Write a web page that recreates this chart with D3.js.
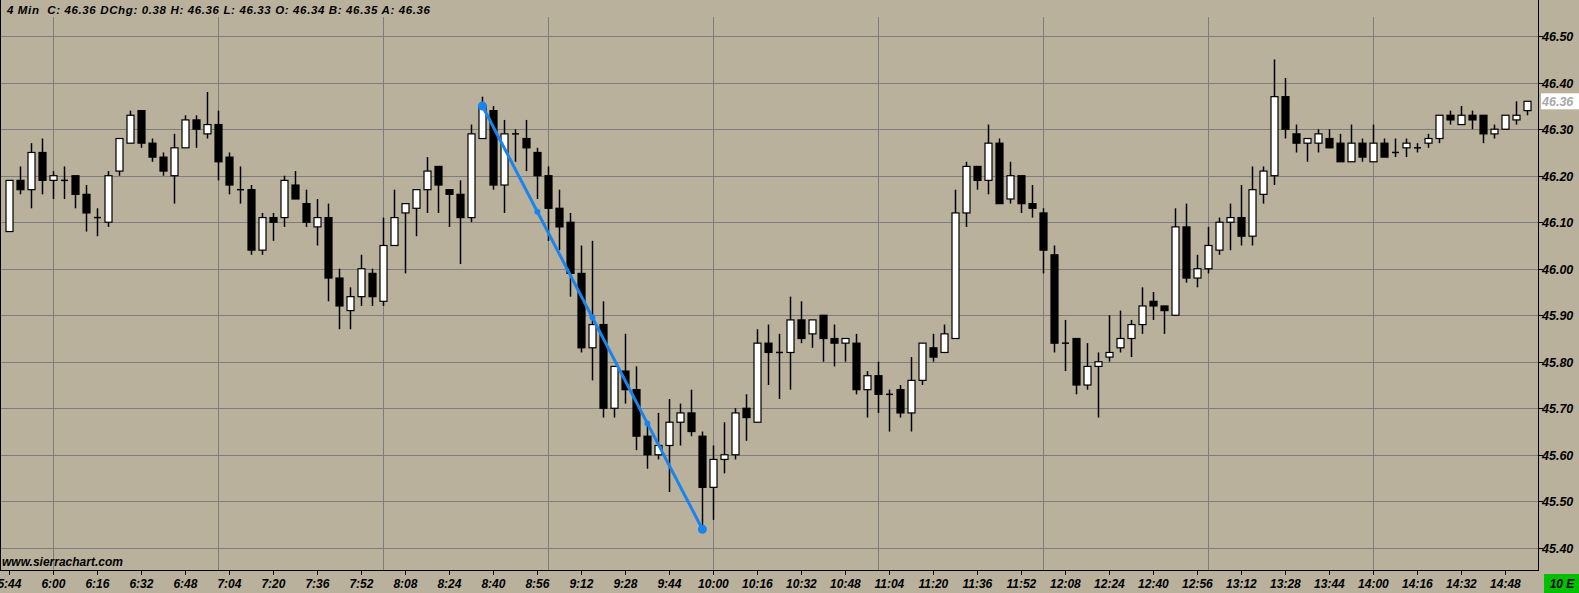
<!DOCTYPE html>
<html>
<head>
<meta charset="utf-8">
<script src="https://cdn.jsdelivr.net/npm/d3@7"></script>
<style>
  body { margin: 0; background: #b9b19c; }
  text { font-family: "Liberation Sans", Arial, sans-serif; font-weight: bold; font-style: italic; }
</style>
</head>
<body>
<svg id="chart" width="1579" height="593"></svg>
<script>
// 4 minute bars, first bar 5:44
var startMinute = 5 * 60 + 44;
var barMinutes = 4;

var openP = [46.08,46.19,46.17,46.25,46.19,46.19,46.20,46.16,46.11,46.10,
  46.21,46.27,46.34,46.27,46.24,46.20,46.26,46.32,46.29,46.31,
  46.24,46.17,46.17,46.04,46.11,46.11,46.18,46.14,46.09,46.11,
  45.98,45.91,45.94,45.99,45.93,46.05,46.12,46.13,46.17,46.22,
  46.17,46.16,46.11,46.28,46.34,46.18,46.29,46.28,46.25,46.20,
  46.13,46.10,45.99,45.83,45.88,45.70,45.78,45.74,45.64,45.60,
  45.62,45.67,45.69,45.64,45.53,45.59,45.60,45.70,45.67,45.84,
  45.82,45.82,45.89,45.86,45.90,45.85,45.84,45.84,45.74,45.77,
  45.73,45.74,45.69,45.76,45.83,45.82,45.85,46.12,46.22,46.19,
  46.27,46.15,46.20,46.14,46.12,46.03,45.84,45.85,45.75,45.79,
  45.81,45.83,45.85,45.88,45.93,45.92,45.90,46.09,45.98,46.00,
  46.04,46.10,46.11,46.07,46.16,46.20,46.37,46.29,46.27,46.27,
  46.28,46.27,46.23,46.27,46.23,46.27,46.25,46.26,46.26,46.27,
  46.28,46.33,46.31,46.33,46.33,46.29,46.30,46.32,46.34];
var highP = [46.19,46.22,46.27,46.28,46.21,46.22,46.20,46.18,46.13,46.21,
  46.28,46.34,46.34,46.28,46.25,46.29,46.33,46.33,46.38,46.34,
  46.25,46.22,46.18,46.12,46.12,46.20,46.21,46.17,46.15,46.14,
  46.00,45.96,46.03,46.00,46.11,46.17,46.14,46.17,46.24,46.22,
  46.17,46.19,46.31,46.37,46.35,46.32,46.30,46.32,46.26,46.22,
  46.17,46.12,46.05,46.06,45.93,45.79,45.86,45.79,45.67,45.69,
  45.72,45.71,45.74,45.65,45.62,45.67,45.70,45.73,45.87,45.88,
  45.86,45.94,45.93,45.89,45.90,45.88,45.85,45.86,45.78,45.80,
  45.74,45.75,45.81,45.84,45.86,45.88,46.17,46.23,46.22,46.31,
  46.28,46.23,46.20,46.18,46.13,46.05,45.89,45.85,45.84,45.82,
  45.90,45.91,45.89,45.96,45.95,45.92,46.13,46.14,46.03,46.09,
  46.11,46.14,46.18,46.22,46.22,46.45,46.41,46.31,46.28,46.30,
  46.30,46.29,46.31,46.28,46.31,46.28,46.28,46.28,46.27,46.29,
  46.33,46.34,46.35,46.34,46.33,46.31,46.33,46.36,46.36];
var lowP = [46.08,46.16,46.13,46.16,46.15,46.15,46.13,46.08,46.07,46.09,
  46.20,46.27,46.26,46.23,46.20,46.14,46.26,46.26,46.28,46.19,
  46.16,46.14,46.03,46.03,46.06,46.09,46.15,46.09,46.05,45.93,
  45.87,45.87,45.92,45.92,45.92,46.05,45.99,46.07,46.12,46.12,
  46.09,46.01,46.10,46.28,46.17,46.12,46.23,46.21,46.15,46.06,
  46.04,45.94,45.82,45.76,45.68,45.68,45.71,45.61,45.57,45.59,
  45.52,45.62,45.64,45.44,45.46,45.56,45.59,45.63,45.67,45.75,
  45.72,45.74,45.84,45.83,45.80,45.79,45.80,45.73,45.68,45.69,
  45.65,45.68,45.65,45.75,45.80,45.82,45.85,46.09,46.17,46.16,
  46.14,46.14,46.12,46.11,45.99,45.82,45.78,45.73,45.74,45.68,
  45.80,45.82,45.81,45.86,45.89,45.86,45.90,45.97,45.96,45.99,
  46.03,46.04,46.05,46.05,46.14,46.18,46.28,46.25,46.23,46.25,
  46.26,46.23,46.23,46.23,46.23,46.24,46.24,46.24,46.25,46.26,
  46.27,46.31,46.31,46.30,46.27,46.28,46.30,46.31,46.33];
var closeP = [46.19,46.17,46.25,46.19,46.20,46.19,46.16,46.12,46.11,46.20,
  46.28,46.33,46.27,46.24,46.21,46.26,46.32,46.30,46.31,46.23,
  46.18,46.17,46.04,46.11,46.10,46.19,46.15,46.10,46.11,45.98,
  45.92,45.94,46.00,45.94,46.05,46.11,46.14,46.17,46.21,46.18,
  46.16,46.11,46.29,46.35,46.18,46.29,46.29,46.26,46.20,46.13,
  46.09,45.99,45.83,45.88,45.70,45.79,45.74,45.64,45.60,45.62,
  45.67,45.69,45.65,45.53,45.59,45.60,45.69,45.68,45.84,45.82,
  45.82,45.89,45.85,45.89,45.85,45.84,45.85,45.74,45.77,45.73,
  45.73,45.69,45.76,45.84,45.81,45.86,46.12,46.22,46.19,46.27,
  46.14,46.20,46.14,46.13,46.04,45.84,45.84,45.75,45.79,45.80,
  45.82,45.85,45.88,45.92,45.92,45.91,46.09,45.98,46.00,46.05,
  46.10,46.11,46.07,46.17,46.21,46.37,46.30,46.27,46.28,46.29,
  46.26,46.23,46.27,46.24,46.27,46.24,46.25,46.27,46.26,46.28,
  46.33,46.32,46.33,46.32,46.29,46.30,46.33,46.33,46.36];

var priceTicks = [45.40,45.50,45.60,45.70,45.80,45.90,46.00,46.10,46.20,46.30,46.40,46.50];
var lastPrice = 46.36;
var headerText = "4 Min  C: 46.36 DChg: 0.38 H: 46.36 L: 46.33 O: 46.34 B: 46.35 A: 46.36";
var trendTimes = ["8:36", "9:56"];
var trendPrices = [46.35, 45.44];

function label(m) {
  return Math.floor(m / 60) + ":" + String(m % 60).padStart(2, "0");
}
var times = openP.map(function(d, i) { return label(startMinute + i * barMinutes); });
var bars = times.map(function(t, i) {
  return {t: t, i: i, o: openP[i], h: highP[i], l: lowP[i], c: closeP[i]};
});

var svg = d3.select("#chart"),
    width = +svg.attr("width"),
    height = +svg.attr("height");

var plotRight = 1538, plotBottom = 570, plotTop = 17;

var x = d3.scalePoint().domain(times).range([9.4, 1527.4]);
var y = d3.scaleLinear().domain([45.40, 46.50]).range([547.8, 36.2]);

svg.append("rect").attr("width", width).attr("height", height).attr("fill", "#b9b19c");

// grid
var grid = svg.append("g").attr("stroke", "#7d7d7d").attr("stroke-width", 1).attr("shape-rendering", "crispEdges");
grid.selectAll("line.h").data(priceTicks).enter().append("line")
    .attr("x1", 0).attr("x2", plotRight)
    .attr("y1", function(d) { return Math.round(y(d)) + 0.5; })
    .attr("y2", function(d) { return Math.round(y(d)) + 0.5; });
grid.selectAll("line.v").data(times.filter(function(t) { return /:00$/.test(t); })).enter().append("line")
    .attr("x1", function(d) { return Math.round(x(d)) + 0.5; })
    .attr("x2", function(d) { return Math.round(x(d)) + 0.5; })
    .attr("y1", plotTop).attr("y2", plotBottom);

// candles
var candle = svg.append("g").selectAll("g").data(bars).enter().append("g");
candle.append("line")
    .attr("x1", function(d) { return Math.round(x(d.t)) + 0.5; })
    .attr("x2", function(d) { return Math.round(x(d.t)) + 0.5; })
    .attr("y1", function(d) { return y(d.h); })
    .attr("y2", function(d) { return y(d.l); })
    .attr("stroke", "#000").attr("stroke-width", 1.5);
candle.filter(function(d) { return d.o !== d.c; }).append("rect")
    .attr("x", function(d) { return Math.round(x(d.t)) - 3; })
    .attr("width", 7)
    .attr("y", function(d) { return y(Math.max(d.o, d.c)); })
    .attr("height", function(d) { return Math.abs(y(d.o) - y(d.c)); })
    .attr("fill", function(d) { return d.c > d.o ? "#fff" : "#000"; })
    .attr("stroke", "#000").attr("stroke-width", 1.2);
candle.filter(function(d) { return d.o === d.c; }).append("line")
    .attr("x1", function(d) { return Math.round(x(d.t)) - 3; })
    .attr("x2", function(d) { return Math.round(x(d.t)) + 4; })
    .attr("y1", function(d) { return y(d.o); })
    .attr("y2", function(d) { return y(d.o); })
    .attr("stroke", "#000").attr("stroke-width", 1.5);

// trend line drawing
var tx0 = x(trendTimes[0]), ty0 = y(trendPrices[0]), tx1 = x(trendTimes[1]), ty1 = y(trendPrices[1]);
svg.append("line").attr("x1", tx0).attr("y1", ty0).attr("x2", tx1).attr("y2", ty1)
    .attr("stroke", "#1a84ee").attr("stroke-width", 3);
svg.append("g").selectAll("circle").data([0, 0.25, 0.5, 0.75, 1]).enter().append("circle")
    .attr("cx", function(k) { return tx0 + (tx1 - tx0) * k; })
    .attr("cy", function(k) { return ty0 + (ty1 - ty0) * k; })
    .attr("r", function(k) { return (k === 0 || k === 1) ? 4.5 : 3; })
    .attr("fill", "#1a84ee");

// borders
svg.append("line").attr("x1", 0.5).attr("x2", 0.5).attr("y1", 0).attr("y2", plotBottom).attr("stroke", "#000");
svg.append("line").attr("x1", plotRight + 0.5).attr("x2", plotRight + 0.5).attr("y1", 0).attr("y2", plotBottom + 0.5).attr("stroke", "#000");
svg.append("line").attr("x1", 0).attr("x2", plotRight + 1).attr("y1", plotBottom + 0.5).attr("y2", plotBottom + 0.5).attr("stroke", "#000");

// price axis
var yAxis = svg.append("g");
yAxis.selectAll("line").data(priceTicks).enter().append("line")
    .attr("x1", plotRight).attr("x2", plotRight + 5)
    .attr("y1", function(d) { return Math.round(y(d)) + 0.5; })
    .attr("y2", function(d) { return Math.round(y(d)) + 0.5; })
    .attr("stroke", "#000");
yAxis.selectAll("text").data(priceTicks).enter().append("text")
    .attr("x", plotRight + 4)
    .attr("y", function(d) { return y(d) + 5; })
    .attr("font-size", 12.5)
    .text(function(d) { return d.toFixed(2); });

svg.append("rect").attr("x", plotRight + 3).attr("y", y(lastPrice) - 8).attr("width", 38).attr("height", 16).attr("fill", "#fff");
svg.append("text").attr("x", plotRight + 4).attr("y", y(lastPrice) + 5).attr("font-size", 12.5)
    .attr("fill", "#a8a8a8").text(lastPrice.toFixed(2));

// time axis
var tickTimes = times.filter(function(t, i) { return i % 4 === 0; });
var xAxis = svg.append("g");
xAxis.selectAll("line").data(tickTimes).enter().append("line")
    .attr("x1", function(d) { return Math.round(x(d)) + 0.5; })
    .attr("x2", function(d) { return Math.round(x(d)) + 0.5; })
    .attr("y1", plotBottom).attr("y2", plotBottom + 5)
    .attr("stroke", "#000");
xAxis.selectAll("text").data(tickTimes).enter().append("text")
    .attr("x", function(d) { return x(d); })
    .attr("y", 588)
    .attr("text-anchor", "middle")
    .attr("font-size", 12)
    .text(function(d) { return d; });

svg.append("rect").attr("x", 1544).attr("y", 574).attr("width", 35).attr("height", 19).attr("fill", "#00c000");
svg.append("text").attr("x", 1562).attr("y", 588).attr("text-anchor", "middle").attr("font-size", 12).text("10 E");

svg.append("text").attr("x", 2).attr("y", 566).attr("font-size", 12).text("www.sierrachart.com");
svg.append("text").attr("x", 7).attr("y", 14).attr("font-size", 11.5)
    .attr("textLength", 423).attr("lengthAdjust", "spacing")
    .style("white-space", "pre").text(headerText);
</script>
</body>
</html>
